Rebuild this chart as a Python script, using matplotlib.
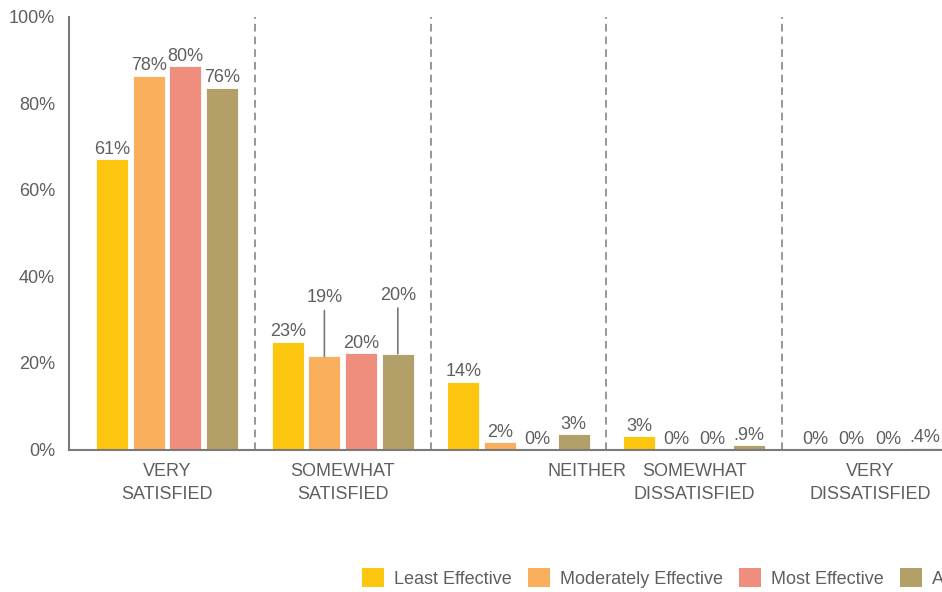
import matplotlib
matplotlib.use("Agg")
import matplotlib.pyplot as plt
import matplotlib.transforms as mtransforms
from matplotlib.patches import Patch
from matplotlib.ticker import FuncFormatter
import numpy as np

plt.rcParams["font.family"] = ["Liberation Sans", "DejaVu Sans"]

# ── Data ─────────────────────────────────────────────────────────────────────
categories = ["VERY\nSATISFIED", "SOMEWHAT\nSATISFIED", "NEITHER",
              "SOMEWHAT\nDISSATISFIED", "VERY\nDISSATISFIED"]
series_names = ["Least Effective", "Moderately Effective", "Most Effective", "All"]

least_effective = [67.0, 24.9, 15.7, 3.1, 0.0]
moderately_effective = [86.3, 21.5, 1.7, 0.0, 0.0]
most_effective = [88.6, 22.2, 0.0, 0.0, 0.0]
all_respondents = [83.6, 22.1, 3.6, 1.0, 0.4]

least_labels = ["61%", "23%", "14%", "3%", "0%"]
moderate_labels = ["78%", "19%", "2%", "0%", "0%"]
most_labels = ["80%", "20%", "0%", "0%", "0%"]
all_labels = ["76%", "20%", "3%", ".9%", ".4%"]

# ── Style ────────────────────────────────────────────────────────────────────
COLORS = ["#FDC70F", "#F9AF5C", "#EF8E7C", "#B3A068"]
TEXT = "#5f5f5f"
AXIS = "#7a7a7a"
FS = 13

# labels pulled up with a leader line: (category, series)
RAISED = {(1, 1), (1, 3)}

values = [least_effective, moderately_effective, most_effective, all_respondents]
labels = [least_labels, moderate_labels, most_labels, all_labels]

fig = plt.figure(figsize=(9.42, 5.92), dpi=100, facecolor="white")
ax = fig.add_axes([0.0732, 0.2407, 0.9268, 0.7313])

x = np.arange(len(categories))
pitch = 0.209
width = 0.182

for s, (vals, lbls) in enumerate(zip(values, labels)):
    xs = x + (s - 1.5) * pitch
    ax.bar(xs, vals, width=width, color=COLORS[s], edgecolor="white",
           linewidth=0.6, zorder=2)
    for c, (xi, v, t) in enumerate(zip(xs, vals, lbls)):
        if (c, s) in RAISED:
            ax.annotate(t, xy=(xi, v), xytext=(0, 36), textcoords="offset points",
                        ha="center", va="bottom", fontsize=FS, color=TEXT,
                        arrowprops=dict(arrowstyle="-", color=AXIS, lw=1.2,
                                        relpos=(0.5, 0), shrinkA=1, shrinkB=0))
        else:
            ax.annotate(t, xy=(xi, v), xytext=(0, 1), textcoords="offset points",
                        ha="center", va="bottom", fontsize=FS, color=TEXT)

# dashed separators between groups
for b in x[:-1] + 0.5:
    ax.axvline(b, color=AXIS, lw=1.1, ls=(0, (5, 3.3)), zorder=1)

ax.set_xlim(-0.558, 4.41)
ax.set_ylim(0, 100)
ax.set_yticks(np.arange(0, 101, 20))
ax.yaxis.set_major_formatter(FuncFormatter(lambda v, p: f"{v:.0f}%"))
ax.set_xticks(x)
ax.set_xticklabels(categories, fontsize=FS, color=TEXT, linespacing=1.45)
ax.tick_params(axis="y", length=0, pad=10, labelsize=FS, labelcolor=TEXT)
ax.tick_params(axis="x", length=0, pad=10)

# "NEITHER" sits off to the right of its group in the original
neither = ax.get_xticklabels()[2]
neither.set_transform(neither.get_transform() +
                      mtransforms.ScaledTranslation(69 / 100, 0, fig.dpi_scale_trans))

for side in ["top", "right"]:
    ax.spines[side].set_visible(False)
for side in ["left", "bottom"]:
    ax.spines[side].set_color(AXIS)
    ax.spines[side].set_linewidth(1.5)

handles = [Patch(facecolor=c, edgecolor="none") for c in COLORS]
fig.legend(handles, series_names, loc="center left",
           bbox_to_anchor=(362 / 942, 1 - 578 / 592), ncol=4, frameon=False,
           fontsize=FS, labelcolor=TEXT, handlelength=1.22, handleheight=1.22,
           handletextpad=0.55, columnspacing=0.9, borderpad=0, borderaxespad=0)

fig.savefig("out.png", dpi=100, facecolor="white")
